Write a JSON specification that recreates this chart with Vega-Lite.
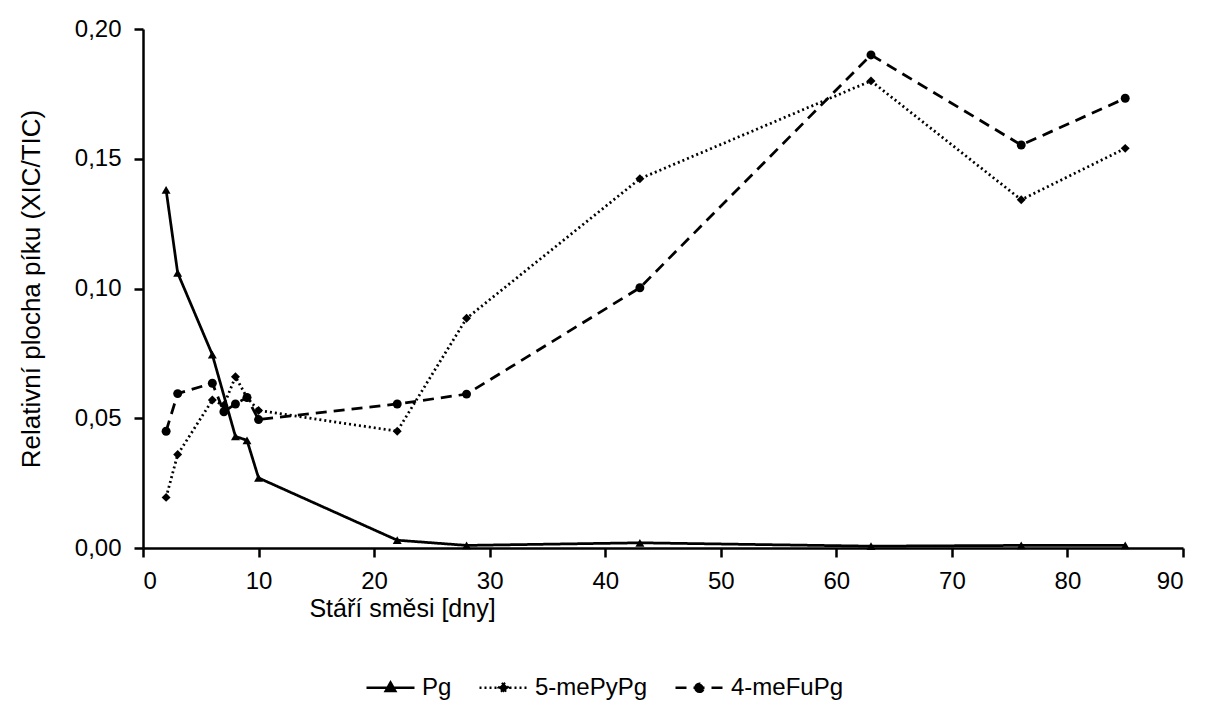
{
  "$schema": "https://vega.github.io/schema/vega-lite/v6.json",
  "width": 1040,
  "height": 519,
  "autosize": {"type": "none"},
  "padding": {"left": 143, "top": 29, "right": 23, "bottom": 167},
  "background": "white",
  "config": {
    "view": {"stroke": null},
    "font": "Liberation Sans",
    "axis": {
      "domainColor": "black",
      "domainWidth": 2.5,
      "tickColor": "black",
      "tickWidth": 2.5,
      "tickSize": 9,
      "labelFont": "Liberation Sans",
      "labelFontSize": 24,
      "labelColor": "black",
      "titleFont": "Liberation Sans",
      "titleFontSize": 26,
      "titleFontWeight": "normal",
      "titleColor": "black",
      "grid": false
    }
  },
  "data": {
    "values": [
      {"series": "Pg", "day": 2, "value": 0.138},
      {"series": "Pg", "day": 3, "value": 0.106},
      {"series": "Pg", "day": 6, "value": 0.0745},
      {"series": "Pg", "day": 8, "value": 0.043},
      {"series": "Pg", "day": 9, "value": 0.0415},
      {"series": "Pg", "day": 10, "value": 0.027},
      {"series": "Pg", "day": 22, "value": 0.003},
      {"series": "Pg", "day": 28, "value": 0.001},
      {"series": "Pg", "day": 43, "value": 0.002},
      {"series": "Pg", "day": 63, "value": 0.0007},
      {"series": "Pg", "day": 76, "value": 0.001},
      {"series": "Pg", "day": 85, "value": 0.001},
      {"series": "5-mePyPg", "day": 2, "value": 0.0195},
      {"series": "5-mePyPg", "day": 3, "value": 0.036},
      {"series": "5-mePyPg", "day": 6, "value": 0.057},
      {"series": "5-mePyPg", "day": 7, "value": 0.055},
      {"series": "5-mePyPg", "day": 8, "value": 0.066},
      {"series": "5-mePyPg", "day": 9, "value": 0.058},
      {"series": "5-mePyPg", "day": 10, "value": 0.053},
      {"series": "5-mePyPg", "day": 22, "value": 0.045},
      {"series": "5-mePyPg", "day": 28, "value": 0.0885},
      {"series": "5-mePyPg", "day": 43, "value": 0.1423},
      {"series": "5-mePyPg", "day": 63, "value": 0.18},
      {"series": "5-mePyPg", "day": 76, "value": 0.1342},
      {"series": "5-mePyPg", "day": 85, "value": 0.154},
      {"series": "4-meFuPg", "day": 2, "value": 0.045},
      {"series": "4-meFuPg", "day": 3, "value": 0.0595},
      {"series": "4-meFuPg", "day": 6, "value": 0.0635},
      {"series": "4-meFuPg", "day": 7, "value": 0.0525},
      {"series": "4-meFuPg", "day": 8, "value": 0.0555},
      {"series": "4-meFuPg", "day": 9, "value": 0.058},
      {"series": "4-meFuPg", "day": 10, "value": 0.0495},
      {"series": "4-meFuPg", "day": 22, "value": 0.0555},
      {"series": "4-meFuPg", "day": 28, "value": 0.0593},
      {"series": "4-meFuPg", "day": 43, "value": 0.1003},
      {"series": "4-meFuPg", "day": 63, "value": 0.19},
      {"series": "4-meFuPg", "day": 76, "value": 0.1553},
      {"series": "4-meFuPg", "day": 85, "value": 0.1733}
    ]
  },
  "encoding": {
    "x": {
      "field": "day",
      "type": "quantitative",
      "scale": {"domain": [0, 90], "nice": false},
      "axis": {
        "values": [0, 10, 20, 30, 40, 50, 60, 70, 80, 90],
        "title": "Stáří směsi [dny]",
        "labelPadding": 12,
        "titlePadding": 3,
        "titleFontSize": 25,
        "titleX": 259
      }
    },
    "y": {
      "field": "value",
      "type": "quantitative",
      "scale": {"domain": [0, 0.2], "nice": false},
      "axis": {
        "values": [0, 0.05, 0.1, 0.15, 0.2],
        "labelExpr": "replace(format(datum.value, '.2f'), '.', ',')",
        "title": "Relativní plocha píku (XIC/TIC)",
        "labelPadding": 13,
        "titlePadding": 30
      }
    }
  },
  "layer": [
    {
      "mark": {"type": "line", "color": "black", "strokeWidth": 2.75, "strokeCap": "butt"},
      "encoding": {
        "strokeDash": {
          "field": "series",
          "type": "nominal",
          "scale": {"domain": ["Pg", "5-mePyPg", "4-meFuPg"], "range": [[1, 0], [2, 3], [11, 7]]},
          "legend": {
            "orient": "none",
            "legendX": 222,
            "legendY": 633,
            "direction": "horizontal",
            "title": null,
            "labelFont": "Liberation Sans",
            "labelFontSize": 24,
            "labelColor": "black",
            "labelOffset": 6,
            "columnPadding": 22,
            "symbolSize": 2304,
            "symbolStrokeWidth": 2.5,
            "symbolStrokeColor": "black",
            "symbolFillColor": "black",
            "encode": {
              "symbols": {
                "update": {
                  "shape": {"signal": "datum.value === 'Pg' ? 'M-1,0H1M0,-0.22L0.2,0.14L-0.2,0.14Z' : datum.value === '5-mePyPg' ? 'M-1,0H1M0,-0.2L0.2,0L0,0.2L-0.2,0Z' : 'M-1,0H1M-0.17,0A0.17,0.17 0 1,0 0.17,0A0.17,0.17 0 1,0 -0.17,0Z'"},
                  "fill": {"value": "black"},
                  "stroke": {"value": "black"}
                }
              }
            }
          }
        }
      }
    },
    {
      "mark": {"type": "point", "filled": true, "color": "black", "opacity": 1},
      "encoding": {
        "shape": {
          "condition": [
            {"test": "datum.series === 'Pg'", "value": "triangle-up"},
            {"test": "datum.series === '5-mePyPg'", "value": "diamond"}
          ],
          "value": "circle"
        },
        "size": {"value": 80}
      }
    }
  ]
}
